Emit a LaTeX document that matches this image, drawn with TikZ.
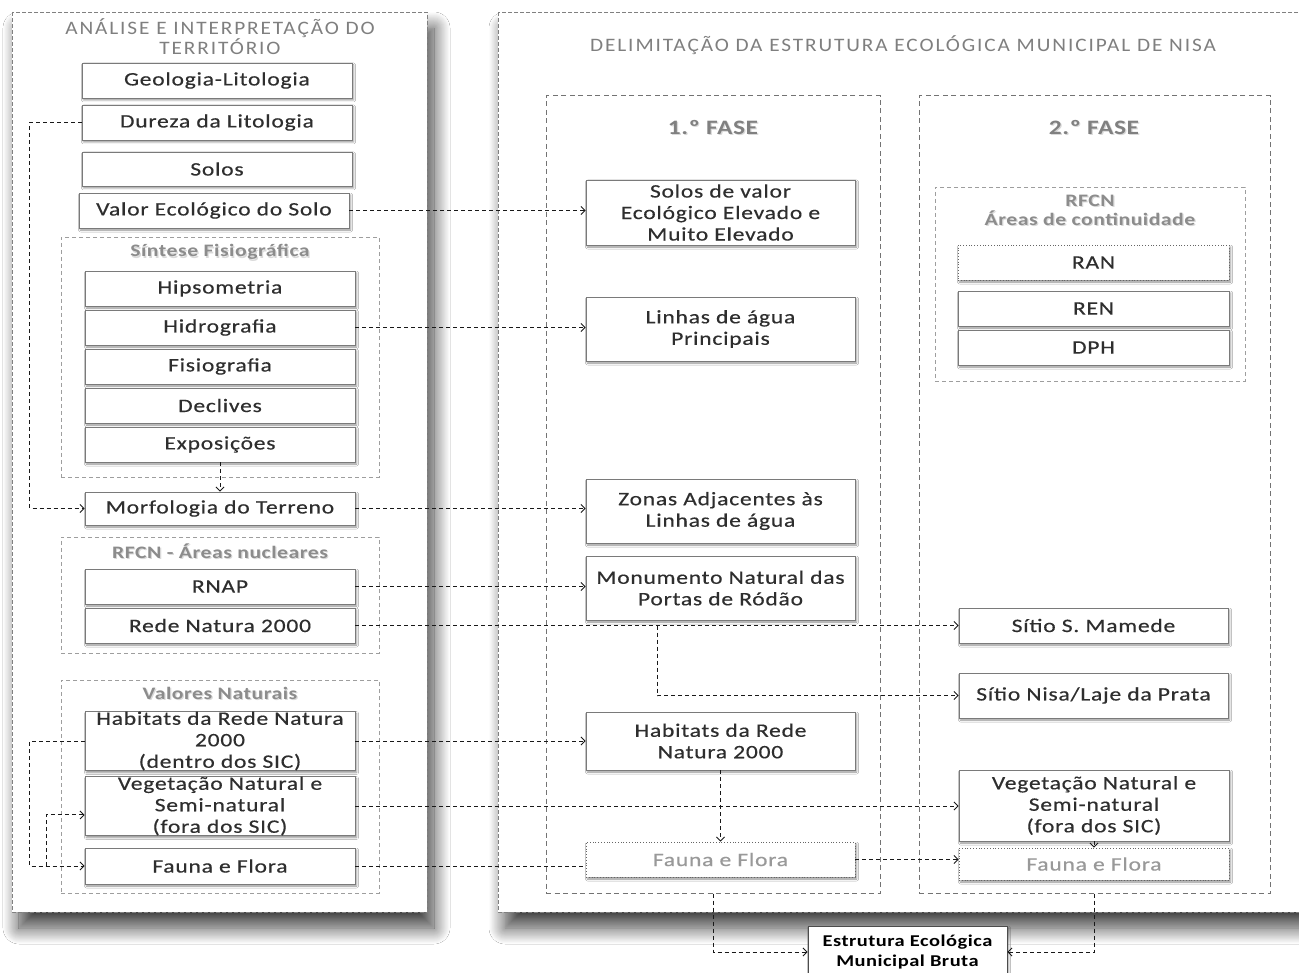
\documentclass[tikz,border=0pt]{standalone}
\usepackage{fontspec}
\setmainfont{Carlito}
\newfontfamily\bxf[FakeStretch=1.24,LetterSpace=4,FakeBold=0.4]{Carlito}
\newfontfamily\glf[FakeStretch=1.24,LetterSpace=3]{Carlito}
\newfontfamily\ttlf[FakeStretch=1.12,LetterSpace=10]{Carlito}
\usetikzlibrary{arrows.meta,shadows.blur,calc}
\definecolor{txt}{HTML}{2E2E2E}
\definecolor{bord}{HTML}{7A7A7A}
\definecolor{ttl}{HTML}{7F7F7F}
\newcommand\B[7][]{\node[box,#1,minimum width={(#5-#3)*1pt},minimum height={(#6-#4)*1pt}] (#2) at ({(#3+#5)/2},{(#4+#6)/2}) {#7};}
\newcommand\G[6][]{\node[grp,#1,minimum width={(#5-#3)*1pt},minimum height={(#6-#4)*1pt}] (#2) at ({(#3+#5)/2},{(#4+#6)/2}) {};}
\begin{document}
\begin{tikzpicture}[x=1pt,y=-1pt,
  conn/.style={draw=black!90, dash pattern=on 4pt off 3pt, line width=0.9pt},
  arr/.style={conn,-{Straight Barb[length=4pt,width=8pt]}},
  box/.style={draw=bord, fill=white, line width=0.8pt, inner sep=0pt, align=center, text=txt,
    font=\bxf\fontsize{19}{21.5}\selectfont,
    blur shadow={shadow xshift=1.5pt,shadow yshift=-2pt,shadow blur radius=2pt,shadow blur steps=4,shadow opacity=45}},
  dotbox/.style={dotted, draw=black!60},
  greytext/.style={text=black!40},
  grp/.style={draw=black!38, dash pattern=on 4pt off 3pt, line width=0.8pt, inner sep=0pt},
  phase/.style={draw=black!55, dash pattern=on 5pt off 3.5pt, line width=1pt, inner sep=0pt},
  panel/.style={draw=black!50, dash pattern=on 4pt off 2pt, line width=0.8pt, fill=white,
    blur shadow={shadow xshift=7pt,shadow yshift=-16pt,shadow blur radius=16pt,shadow blur steps=18,shadow opacity=75}},
  ttlstyle/.style={text=ttl, font=\ttlf\fontsize{19}{20}\selectfont, align=center},
  glab/.style={text=black!45, font=\glf\bfseries\fontsize{17.5}{19}\selectfont, align=center},
  phlab/.style={text=black!50, font=\glf\bfseries\fontsize{20.5}{22}\selectfont},
]
\fill[white] (0,0) rectangle (1299,973);
\useasboundingbox (0,0) rectangle (1299,973);

% panels
\draw[panel] (12,12) rectangle (427,912);
\draw[panel] (498,12) rectangle (1330,912);

% titles
\node[ttlstyle] (t1) at (220,37) {ANÁLISE E INTERPRETAÇÃO DO\\TERRITÓRIO};
\node[ttlstyle] (t2) at (903,45) {DELIMITAÇÃO DA ESTRUTURA ECOLÓGICA MUNICIPAL DE NISA};

% groups
\G{sint}{61}{237}{379}{477}
\G{rfcn}{61}{537}{379}{653}
\G{valn}{61}{680}{379}{893}
\G[phase]{f1}{546}{96}{880}{893}
\G[phase]{f2}{919}{96}{1270}{893}
\G{rfcn2}{935}{187}{1245}{381}

% group labels (with soft shadow)
\foreach \p/\t in {{220,252}/{Síntese Fisiográfica},{220,551}/{RFCN - Áreas nucleares},{220,693}/{Valores Naturais}}{
  \node[glab,text=black!15] at ($(\p)+(1.2,1.5)$) {\t};
}
\node[glab] (lsint) at (220,252) {Síntese Fisiográfica};
\node[glab] (lrfcn) at (220,551) {RFCN - Áreas nucleares};
\node[glab] (lvaln) at (220,693) {Valores Naturais};
\node[glab,text=black!15] at (1091.2,211.5) {RFCN\\Áreas de continuidade};
\node[glab] (lrfcn2) at (1090,210) {RFCN\\Áreas de continuidade};
\node[phlab,text=black!15] at (714.2,128.5) {1.º FASE};
\node[phlab,text=black!15] at (1095.2,128.5) {2.º FASE};
\node[phlab] (lf1) at (713,127) {1.º FASE};
\node[phlab] (lf2) at (1094,127) {2.º FASE};

% left column
\B{geo}{82}{63}{352}{98}{Geologia-Litologia}
\B{dur}{82}{105}{352}{140}{Dureza da Litologia}
\B{sol}{82}{152}{352}{186}{Solos}
\B{veco}{79}{193}{349}{228}{Valor Ecológico do Solo}
\B{hips}{85}{271}{355}{306}{Hipsometria}
\B{hidr}{85}{310}{355}{345}{Hidrografia}
\B{fisi}{85}{349}{355}{384}{Fisiografia}
\B{decl}{85}{388}{355}{423}{Declives}
\B{expo}{85}{427}{355}{462}{Exposições}
\B{morf}{85}{492}{355}{525}{Morfologia do Terreno}
\B{rnap}{85}{569}{355}{604}{RNAP}
\B{rn}{85}{608}{355}{643}{Rede Natura 2000}
\B{hab}{85}{712}{355}{770}{Habitats da Rede Natura\\2000\\(dentro dos SIC)}
\B{veg}{85}{777}{355}{835}{Vegetação Natural e\\Semi-natural\\(fora dos SIC)}
\B{fau}{85}{848}{355}{884}{Fauna e Flora}

% 1a fase
\B{solv}{586}{180}{855}{245}{Solos de valor\\Ecológico Elevado e\\Muito Elevado}
\B{linh}{586}{297}{855}{361}{Linhas de água\\Principais}
\B{zona}{586}{479}{855}{543}{Zonas Adjacentes às\\Linhas de água}
\B{monu}{586}{556}{855}{620}{Monumento Natural das\\Portas de Ródão}
\B{hab1}{586}{712}{855}{770}{Habitats da Rede\\Natura 2000}
\B[dotbox,greytext]{fau1}{586}{842}{855}{877}{Fauna e Flora}

% 2a fase
\B[dotbox]{ran}{958}{245}{1229}{280}{RAN}
\B{ren}{958}{291}{1229}{326}{REN}
\B{dph}{958}{330}{1229}{365}{DPH}
\B{smam}{959}{608}{1228}{643}{Sítio S. Mamede}
\B{nisa}{959}{673}{1228}{718}{Sítio Nisa/Laje da Prata}
\B{veg2}{959}{770}{1229}{841}{Vegetação Natural e\\Semi-natural\\(fora dos SIC)}
\B[dotbox,greytext]{fau2}{959}{848}{1229}{880}{Fauna e Flora}

% final
\B[text=black,draw=black!70,font=\glf\bfseries\fontsize{16.5}{20}\selectfont]{est}{808}{926}{1007}{978}{Estrutura Ecológica\\Municipal Bruta}

% connectors
\draw[arr] (dur.west) -- ++(-52,0) |- (morf.west);
\draw[arr] (veco.east) -- (solv.west |- veco.east);
\draw[arr] (hidr.east) -- (linh.west |- hidr.east);
\draw[arr] (expo.south) -- (morf.north);
\draw[arr] (morf.east) -- (zona.west |- morf.east);
\draw[arr] (rnap.east) -- (monu.west |- rnap.east);
\draw[arr] (rn.east) -- (smam.west |- rn.east);
\coordinate (br) at (657,625.5);
\draw[arr] (br) |- (nisa.west);
\draw[arr] (hab.east) -- (hab1.west |- hab.east);
\draw[arr] (hab.west) -- ++(-55,0) |- (fau.west);
\coordinate (br2) at (46,866);
\draw[arr] (br2) |- ($(veg.south west)!0.35!(veg.north west)$);
\draw[arr] (veg.east) -- (veg2.west |- veg.east);
\draw[arr] (hab1.south) -- (fau1.north);
\draw[conn] (fau.east) -- (fau1.west |- fau.east);
\draw[arr] (fau1.east) -- (fau2.west |- fau1.east);
\draw[arr] (veg2.south) -- (fau2.north);
\draw[arr] (f1.south) |- (est.west);
\draw[arr] (f2.south) |- (est.east);
\end{tikzpicture}
\end{document}
